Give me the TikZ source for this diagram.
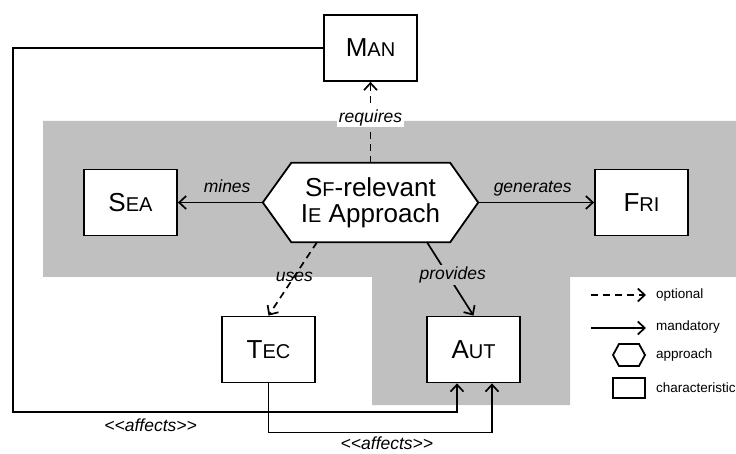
\documentclass[tikz,border=0pt]{standalone}
\usepackage{fontspec}
\setmainfont{Liberation Sans}
\usetikzlibrary{arrows.meta,calc}
\pgfdeclarelayer{back}
\pgfdeclarelayer{mid}
\pgfsetlayers{back,mid,main}
\definecolor{panel}{HTML}{C0C0C0}
% first letter full size, the rest as smaller capitals
\newcommand\lowcap[1]{{\fontsize{20}{20}\selectfont #1}}

\begin{document}
\begin{tikzpicture}[x=1pt,y=-1pt,
  box/.style={draw, line width=1.8pt, fill=white, minimum width=93pt,
    minimum height=66pt, inner sep=0pt, font=\fontsize{26}{26}\selectfont},
  mand/.style={line width=1.7pt, -{Straight Barb[length=7pt,width=13pt]}},
  opt/.style={mand, dash pattern=on 7pt off 5pt},
  elabel/.style={font=\fontsize{17.5}{18}\selectfont\itshape, inner sep=1.5pt},
  legtext/.style={font=\fontsize{13.5}{14}\selectfont, anchor=west, inner sep=0pt},
  outline/.style={line width=1.8pt}]
\useasboundingbox (0,0) rectangle (736,454);

% grey panel behind the approach and its direct results
\begin{pgfonlayer}{back}
\fill[panel] (43,121) -- (736,121) -- (736,277) -- (570,277) -- (570,405)
  -- (372,405) -- (372,277) -- (43,277) -- cycle;
\end{pgfonlayer}

% characteristics
\node[box] (man) at (370.5,48) {M\lowcap{AN}};
\node[box] (sea) at (130.5,202.5) {S\lowcap{EA}};
\node[box] (fri) at (641.5,202.5) {F\lowcap{RI}};
\node[box] (tec) at (268.5,349.5) {T\lowcap{EC}};
\node[box] (aut) at (473.5,349.5) {A\lowcap{UT}};

% the approach: hexagon around a plain text node
\node[minimum width=215pt, minimum height=79pt, inner sep=0pt, align=center,
  font=\fontsize{26}{26}\selectfont] (app) at (370.5,202.5)
  {S\lowcap{F}-relevant\\I\lowcap{E} Approach};
\begin{pgfonlayer}{mid}
\draw[outline, fill=white] (app.west) -- ($(app.north west)+(28.5,0)$)
  -- ($(app.north east)+(-28,0)$) -- (app.east)
  -- ($(app.south east)+(-28,0)$) -- ($(app.south west)+(28.5,0)$) -- cycle;
\end{pgfonlayer}

% relations of the approach
\draw[opt] (app.north) -- node[elabel, fill=white, pos=0.56] {requires} (man.south);
\draw[mand] (app.west) -- node[elabel, anchor=base, pos=0.42, yshift=10pt] {mines} (sea.east);
\draw[mand] (app.east) -- node[elabel, anchor=base, pos=0.47, yshift=10pt] {generates} (fri.west);
\draw[opt] ($(app.south)+(-53.5,0)$) -- node[elabel, anchor=base, pos=0.54, xshift=3.5pt] {uses} (tec.north);
\draw[mand] ($(app.south)+(56.5,0)$) -- node[elabel, fill=panel, anchor=base, pos=0.51, xshift=2pt] {provides} (aut.north);

% affects relations
\coordinate (lx) at (13,412);
\coordinate (a1) at ($(aut.south)+(-16.5,0)$);
\coordinate (a2) at ($(aut.south)+(18.5,0)$);
\draw[mand] (man.west) -| (lx) -- node[elabel, anchor=base, pos=0.31, yshift=-19.7pt]
  {{<}{<}\textit{affects}{>}{>}} (lx -| a1) -- (a1);
\draw[mand] (tec.south) -- ++(0,49) coordinate (t1) -- node[elabel, anchor=base, pos=0.53, yshift=-17.5pt]
  {{<}{<}\textit{affects}{>}{>}} (t1 -| a2) -- (a2);

% legend
\coordinate (lo1) at (591,295); \coordinate (lo2) at (646,295);
\draw[opt] (lo1) -- (lo2);
\node[legtext] (lopt) at (656,295) {optional};
\coordinate (lm1) at (591,328); \coordinate (lm2) at (646,328);
\draw[mand] (lm1) -- (lm2);
\node[legtext] (lman) at (656,327) {mandatory};
\draw[outline] (613,355) -- (619,344) -- (639,344) -- (645,355) -- (639,366) -- (619,366) -- cycle;
\node[legtext] (lapp) at (656,355) {approach};
\draw[outline] (613,378) rectangle (645,398);
\node[legtext] (lchr) at (656,388) {characteristic};
\end{tikzpicture}
\end{document}
